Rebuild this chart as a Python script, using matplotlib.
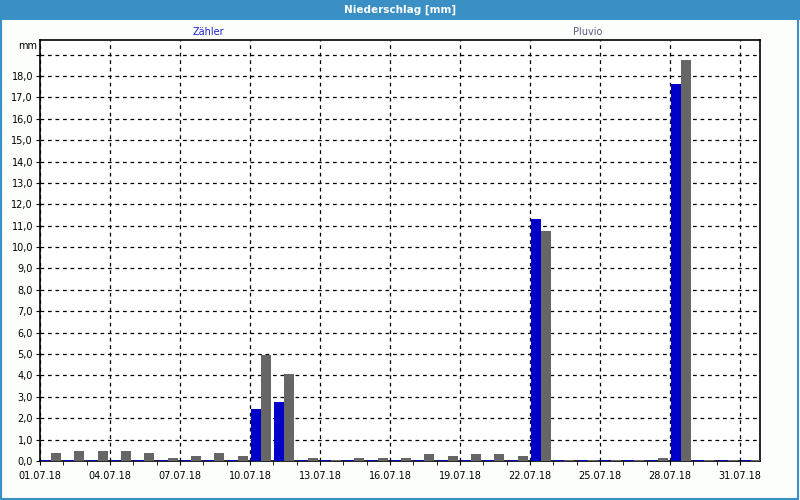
import matplotlib
matplotlib.use("Agg")
import matplotlib.pyplot as plt
from matplotlib.patches import Rectangle
from matplotlib.ticker import FixedLocator, MultipleLocator, FuncFormatter

# Daily precipitation, July 2018
days = list(range(1, 32))
zaehler = [0.05, 0.05, 0.05, 0.05, 0.05, 0.05, 0.05, 0.05, 0.05, 2.45,
           2.75, 0.05, 0.05, 0.05, 0.05, 0.05, 0.05, 0.05, 0.05, 0.05,
           0.05, 11.3, 0.05, 0.05, 0.05, 0.05, 0.05, 17.62, 0.05, 0.05,
           0.05]
pluvio = [0.36, 0.48, 0.48, 0.48, 0.36, 0.16, 0.25, 0.36, 0.25, 4.95,
          4.07, 0.14, 0.05, 0.14, 0.14, 0.14, 0.34, 0.23, 0.34, 0.34,
          0.25, 10.77, 0.05, 0.05, 0.05, 0.05, 0.16, 18.76, 0.05, 0.05,
          0.05]
label_days = [1, 4, 7, 10, 13, 16, 19, 22, 25, 28, 31]

BLUE = "#0000c8"
GREY = "#666666"
BAR_BLUE = "#3a8fc5"

plt.rcParams["font.family"] = ["DejaVu Sans"]

fig = plt.figure(figsize=(8, 5), dpi=100)
fig.patch.set_facecolor("#fcfefc")

# title bar and frame
fig.patches.append(Rectangle((0, 0.96), 1, 0.04, transform=fig.transFigure,
                             facecolor=BAR_BLUE, edgecolor="none", zorder=0))
fig.patches.append(Rectangle((0.001, 0.002), 0.997, 0.996, transform=fig.transFigure,
                             facecolor="none", edgecolor=BAR_BLUE, lw=1.5, zorder=1))
fig.text(0.5, 0.98, "Niederschlag [mm]", color="white", fontweight="bold",
         fontsize=7.5, ha="center", va="center")

ax = fig.add_axes([0.05, 0.078, 0.90, 0.842])
ax.set_facecolor("white")

ax.bar([d + 0.04 for d in days], zaehler, width=0.42, align="edge",
       color=BLUE, linewidth=0, zorder=3)
ax.bar([d + 0.47 for d in days], pluvio, width=0.43, align="edge",
       color=GREY, linewidth=0, zorder=3)

ax.set_xlim(1, 31.86)
ax.set_ylim(0, 19.68)

ax.xaxis.set_major_locator(FixedLocator(label_days))
ax.xaxis.set_minor_locator(FixedLocator(days))
ax.xaxis.set_major_formatter(FuncFormatter(lambda v, p: "%02d.07.18" % int(round(v))))
ax.yaxis.set_major_locator(MultipleLocator(1))
ax.yaxis.set_major_formatter(FuncFormatter(
    lambda v, p: ("%.1f" % v).replace(".", ",") if v < 18.5 else ""))

ax.tick_params(axis="both", labelsize=7, length=3, width=0.8, color="black",
               pad=2)
ax.tick_params(axis="x", which="minor", length=3)
ax.tick_params(axis="x", pad=4)

ax.grid(True, which="major", color="black", linestyle=(0, (3, 3)), lw=0.9, zorder=1)
for s in ax.spines.values():
    s.set_color("black")
    s.set_linewidth(1.2)

fig.text(0.046, 0.908, "mm", fontsize=7, ha="right", va="center")
fig.text(0.26, 0.936, "Zähler", color="#2020d0", fontsize=7, ha="center", va="center")
fig.text(0.735, 0.936, "Pluvio", color="#5a5a80", fontsize=7, ha="center", va="center")

fig.savefig("out.png", dpi=100, facecolor=fig.get_facecolor())
